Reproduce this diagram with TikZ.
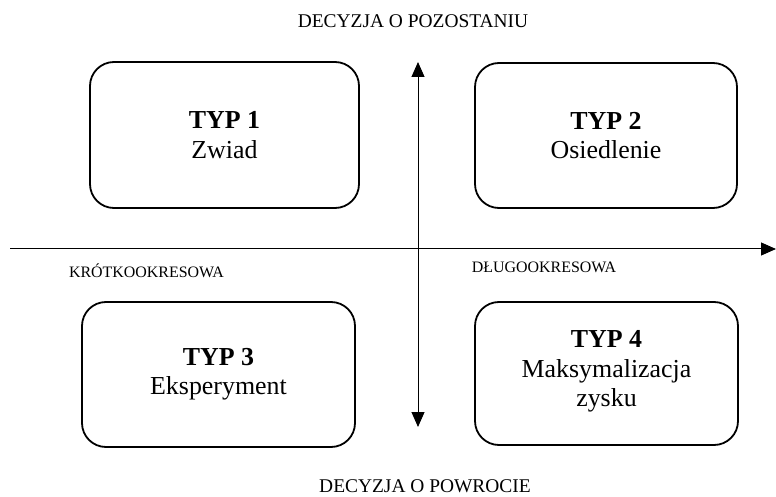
\documentclass[tikz,border=0pt]{standalone}
\usepackage{fontspec}
\setmainfont{Liberation Serif}
\usetikzlibrary{arrows.meta}
\begin{document}
\begin{tikzpicture}[x=1bp,y=-1bp,
  box/.style={draw, line width=1.8bp, rounded corners=24bp, inner sep=0pt,
    align=center, font=\fontsize{26}{29.5}\selectfont},
  axis/.style={line width=1bp},
  lbl/.style={inner sep=0pt, anchor=base, font=\fontsize{16}{18}\selectfont},
  ttl/.style={inner sep=0pt, anchor=base, font=\fontsize{19.5}{22}\selectfont}]
\useasboundingbox (0,0) rectangle (776,497);
% boxes
\node[box, minimum width=269bp, minimum height=146bp] (t1) at (224.5,135) {\textbf{TYP 1}\\Zwiad};
\node[box, minimum width=262bp, minimum height=145bp] (t2) at (606,135.5) {\textbf{TYP 2}\\Osiedlenie};
\node[box, minimum width=273bp, minimum height=145bp] (t3) at (218.5,374.5) {\textbf{TYP 3}\\Eksperyment};
\node[box, minimum width=263bp, minimum height=143bp] (t4) at (606.5,373.5) {\textbf{TYP 4}\\Maksymalizacja\\zysku\\[-20bp]\mbox{}};
% axes
\coordinate (vt) at (418,62);
\coordinate (vb) at (418,427);
\coordinate (hl) at (10,249);
\coordinate (hr) at (776,249);
\draw[axis, {Triangle[length=15bp,width=13bp]}-{Triangle[length=15bp,width=13bp]}] (vb) -- (vt);
\draw[axis, -{Triangle[length=15bp,width=13bp]}] (hl) -- (hr);
% labels
\node[ttl] (top) at (413,28) {DECYZJA O POZOSTANIU};
\node[ttl] (bot) at (425,492) {DECYZJA O POWROCIE};
\node[lbl] (left) at (146.5,278) {KRÓTKOOKRESOWA};
\node[lbl] (right) at (544,273) {DŁUGOOKRESOWA};
\end{tikzpicture}
\end{document}
